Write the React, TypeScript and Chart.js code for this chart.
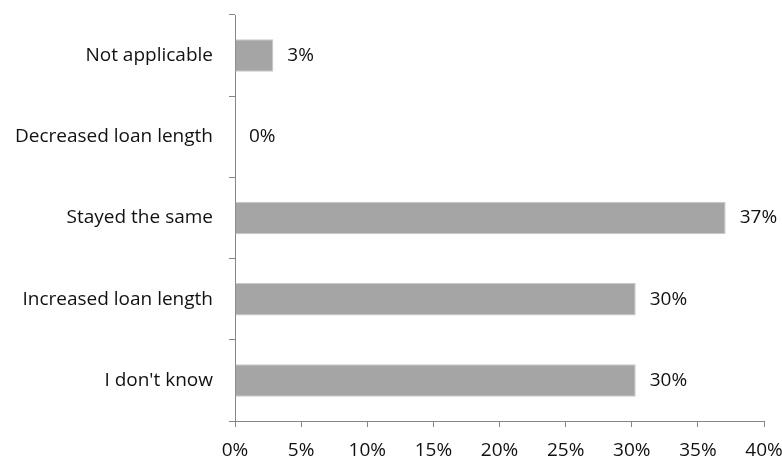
import React, { useEffect, useRef } from "react";
import { Chart, registerables } from "chart.js";

Chart.register(...registerables);

const categories = [
  "Not applicable",
  "Decreased loan length",
  "Stayed the same",
  "Increased loan length",
  "I don't know",
];
const values = [2.9, 0, 37.1, 30.3, 30.3];
const valueLabels = ["3%", "0%", "37%", "30%", "30%"];
const xTicks = [0, 5, 10, 15, 20, 25, 30, 35, 40];

const FONT = "'Open Sans', sans-serif";
const TEXT = "#111111";
const AXIS = "#868686";

const dataLabelPlugin = {
  id: "dataLabels",
  afterDatasetsDraw(chart: any) {
    const ctx = chart.ctx;
    const meta = chart.getDatasetMeta(0);
    ctx.save();
    ctx.font = `19px ${FONT}`;
    ctx.fillStyle = TEXT;
    ctx.textAlign = "left";
    ctx.textBaseline = "middle";
    meta.data.forEach((el: any, i: number) => {
      ctx.fillText(valueLabels[i], el.x + 14, el.y);
    });
    ctx.restore();
  },
};

export default function App() {
  const ref = useRef<HTMLCanvasElement | null>(null);
  useEffect(() => {
    if (!ref.current) return;
    const chart = new Chart(ref.current, {
      type: "bar",
      data: {
        labels: categories,
        datasets: [
          {
            data: values,
            backgroundColor: "#a5a5a5",
            borderColor: "#c8c8c8",
            borderWidth: 1,
            categoryPercentage: 0.8,
            barPercentage: 0.5,
          },
        ],
      },
      options: {
        indexAxis: "y",
        animation: false,
        responsive: false,
        maintainAspectRatio: false,
        layout: { padding: { top: 15, right: 18, left: 0, bottom: 0 } },
        plugins: { legend: { display: false }, tooltip: { enabled: false } },
        scales: {
          x: {
            type: "linear",
            min: 0,
            max: 40,
            afterBuildTicks: (scale: any) => {
              scale.ticks = xTicks.map((v) => ({ value: v }));
            },
            afterFit: (scale: any) => {
              scale.height = 38;
              scale.paddingLeft = 0;
              scale.paddingRight = 0;
            },
            grid: {
              drawOnChartArea: false,
              drawTicks: true,
              tickLength: 6,
              color: AXIS,
            },
            border: { display: true, color: AXIS, width: 1 },
            ticks: {
              callback: (v: any) => `${v}%`,
              font: { family: FONT, size: 19 },
              color: TEXT,
              padding: 12,
              maxRotation: 0,
              autoSkip: false,
            },
          },
          y: {
            type: "category",
            afterFit: (scale: any) => {
              scale.width = 235;
              scale.paddingTop = 0;
              scale.paddingBottom = 0;
            },
            grid: {
              offset: true,
              drawOnChartArea: false,
              drawTicks: true,
              tickLength: 6,
              color: AXIS,
            },
            border: { display: true, color: AXIS, width: 1 },
            ticks: {
              font: { family: FONT, size: 19 },
              color: TEXT,
              padding: 16,
              autoSkip: false,
            },
          },
        },
      },
      plugins: [dataLabelPlugin],
    });
    return () => chart.destroy();
  }, []);
  return (
    <div style={{ position: "fixed", left: 0, top: 0, width: 782, height: 459, background: "#fff" }}>
      <canvas ref={ref} width={782} height={459} style={{ width: 782, height: 459, display: "block" }} />
    </div>
  );
}
